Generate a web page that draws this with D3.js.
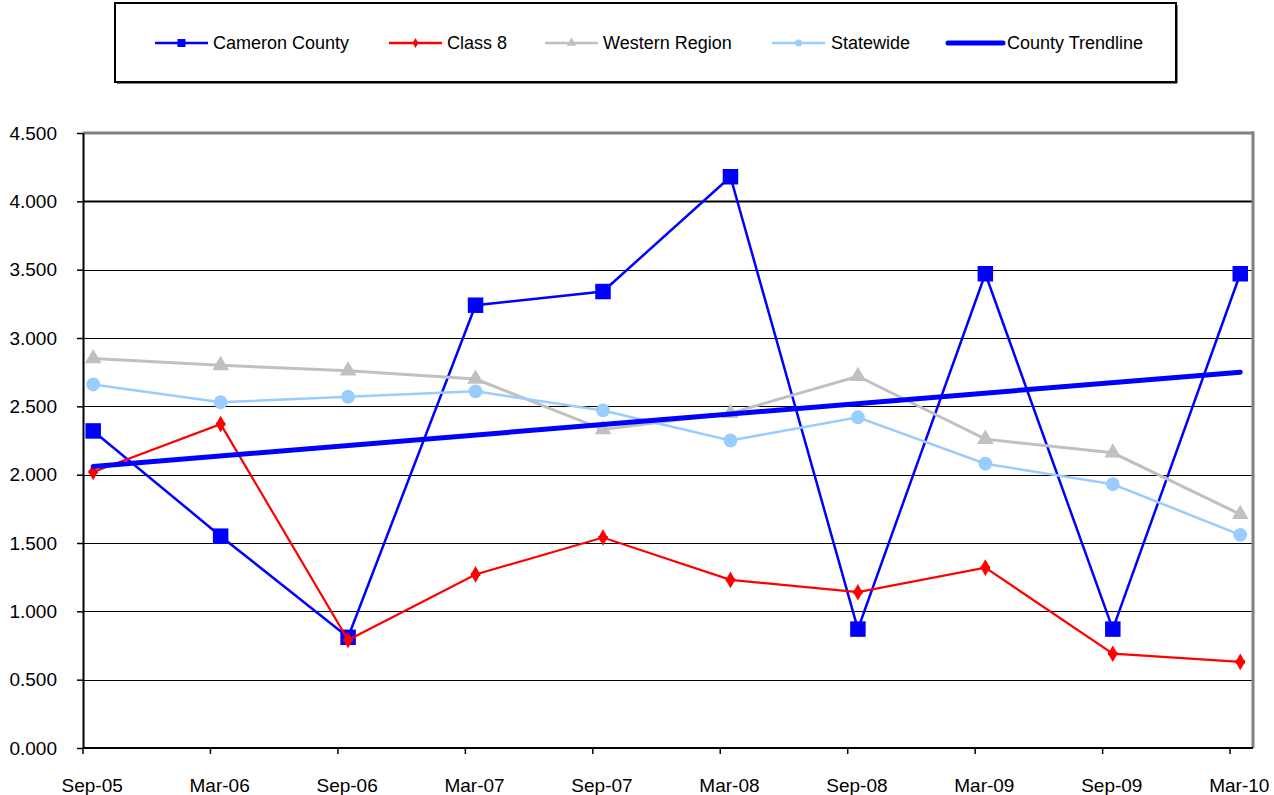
<!DOCTYPE html>
<html>
<head>
<meta charset="utf-8">
<script src="https://cdn.jsdelivr.net/npm/d3@7"></script>
<style>
  html, body { margin: 0; padding: 0; background: #fff; }
  svg { display: block; font-family: Arial, "Liberation Sans", sans-serif; }
</style>
</head>
<body>
<svg id="chart" width="1274" height="795"></svg>
<script>
const categories = ["Sep-05","Mar-06","Sep-06","Mar-07","Sep-07","Mar-08","Sep-08","Mar-09","Sep-09","Mar-10"];
const cameronCounty = [2.32, 1.55, 0.81, 3.24, 3.34, 4.18, 0.87, 3.47, 0.87, 3.47];
const class8        = [2.02, 2.37, 0.79, 1.27, 1.54, 1.23, 1.14, 1.32, 0.69, 0.63];
const westernRegion = [2.85, 2.80, 2.76, 2.70, 2.33, 2.45, 2.72, 2.26, 2.16, 1.71];
const statewide     = [2.66, 2.53, 2.57, 2.61, 2.47, 2.25, 2.42, 2.08, 1.93, 1.56];
const countyTrendline = [2.06, 2.75]; // at first and last category
const yTicks = [0, 0.5, 1, 1.5, 2, 2.5, 3, 3.5, 4, 4.5];

const svg = d3.select("#chart");
const pLeft = 83, pRight = 1253, pTop = 133, pBottom = 748;

const x = d3.scaleLinear().domain([-0.08, 9.1]).range([pLeft, pRight]);
const y = d3.scaleLinear().domain([0, 4.5]).range([pBottom, pTop]);

// gridlines
svg.append("g").selectAll("line").data(yTicks.filter(v => v > 0 && v < 4.5)).join("line")
  .attr("x1", pLeft).attr("x2", pRight)
  .attr("y1", d => Math.round(y(d)) + 0.5).attr("y2", d => Math.round(y(d)) + 0.5)
  .attr("stroke", "#000").attr("stroke-width", d => d === 4 ? 2 : 1.2);

// plot border (top/right gray)
svg.append("line").attr("x1", pLeft).attr("x2", pRight + 1).attr("y1", y(4.5)).attr("y2", y(4.5))
  .attr("stroke", "#808080").attr("stroke-width", 3);
svg.append("line").attr("x1", pRight).attr("x2", pRight).attr("y1", y(4.5) - 1.5).attr("y2", pBottom)
  .attr("stroke", "#808080").attr("stroke-width", 3);

// y axis
const yAxis = d3.axisLeft(y).tickValues(yTicks).tickFormat(d3.format(".3f")).tickSize(6).tickSizeOuter(0);
const gy = svg.append("g").attr("transform", `translate(${pLeft},0)`).call(yAxis);
gy.select(".domain").attr("stroke", "#000").attr("stroke-width", 2);
gy.selectAll(".tick line").attr("stroke", "#000").attr("stroke-width", 1.5);
gy.selectAll(".tick text").attr("font-size", 19).attr("fill", "#000").attr("x", -26)
  .attr("font-family", "Arial, 'Liberation Sans', sans-serif");

// x axis
const idx = d3.range(categories.length);
const gx = svg.append("g").attr("transform", `translate(0,${pBottom})`);
gx.append("line").attr("x1", pLeft).attr("x2", pRight).attr("y1", 0).attr("y2", 0)
  .attr("stroke", "#000").attr("stroke-width", 2);
gx.selectAll("line.tk").data(idx).join("line").attr("class", "tk")
  .attr("x1", d => x(d - 0.08)).attr("x2", d => x(d - 0.08)).attr("y1", 0).attr("y2", 6)
  .attr("stroke", "#000").attr("stroke-width", 1.5);
gx.selectAll("text").data(idx).join("text")
  .attr("x", d => x(d) - 1).attr("y", 44)
  .attr("text-anchor", "middle").attr("font-size", 19).attr("fill", "#000")
  .text(d => categories[d]);

// series
function drawLine(values, color, width) {
  const line = d3.line().x((d, i) => x(i)).y(d => y(d));
  svg.append("path").datum(values).attr("d", line)
    .attr("fill", "none").attr("stroke", color).attr("stroke-width", width).attr("stroke-linejoin", "miter");
}
function drawMarkers(values, type, size, color) {
  svg.append("g").selectAll("path").data(values).join("path")
    .attr("transform", (d, i) => `translate(${x(i)},${y(d)})`)
    .attr("d", d3.symbol().type(type).size(size))
    .attr("fill", color);
}

drawLine(cameronCounty, "#0000FF", 2.5);
drawMarkers(cameronCounty, d3.symbolSquare, 240, "#0000FF");

drawLine(class8, "#FF0000", 2.2);
drawMarkers(class8, d3.symbolDiamond, 80, "#FF0000");
drawMarkers(class8, d3.symbolCross, 50, "#FF0000");

drawLine(westernRegion, "#C0C0C0", 3);
drawMarkers(westernRegion, d3.symbolTriangle, 120, "#C0C0C0");

drawLine(statewide, "#99CCFF", 2.5);
drawMarkers(statewide, d3.symbolCircle, 150, "#99CCFF");

// trendline
svg.append("line")
  .attr("x1", x(0)).attr("y1", y(countyTrendline[0]))
  .attr("x2", x(categories.length - 1)).attr("y2", y(countyTrendline[1]))
  .attr("stroke", "#0000FF").attr("stroke-width", 5).attr("stroke-linecap", "round");

// legend
const lg = svg.append("g");
lg.append("rect").attr("x", 115).attr("y", 3).attr("width", 1061).attr("height", 79)
  .attr("fill", "#fff").attr("stroke", "#000").attr("stroke-width", 2);
lg.append("line").attr("x1", 117).attr("x2", 1177).attr("y1", 82.5).attr("y2", 82.5).attr("stroke", "#000").attr("stroke-width", 2);
lg.append("line").attr("x1", 1176.5).attr("x2", 1176.5).attr("y1", 5).attr("y2", 83).attr("stroke", "#000").attr("stroke-width", 2);

const legendItems = [
  { name: "Cameron County", color: "#0000FF", x0: 155, x1: 208, tx: 213, sym: d3.symbolSquare, size: 64, w: 2.5 },
  { name: "Class 8", color: "#FF0000", x0: 389, x1: 442, tx: 447, sym: d3.symbolDiamond, size: 30, w: 2.5 },
  { name: "Western Region", color: "#C0C0C0", x0: 545, x1: 598, tx: 603, sym: d3.symbolTriangle, size: 40, w: 2.5 },
  { name: "Statewide", color: "#99CCFF", x0: 772, x1: 825, tx: 831, sym: d3.symbolCircle, size: 40, w: 2.5 },
  { name: "County Trendline", color: "#0000FF", x0: 948, x1: 1003, tx: 1007, sym: null, size: 0, w: 5 }
];
const ly = 43;
legendItems.forEach(it => {
  lg.append("line").attr("x1", it.x0).attr("x2", it.x1).attr("y1", ly).attr("y2", ly)
    .attr("stroke", it.color).attr("stroke-width", it.w).attr("stroke-linecap", it.sym ? "butt" : "round");
  if (it.sym) {
    lg.append("path").attr("transform", `translate(${(it.x0 + it.x1) / 2},${ly})`)
      .attr("d", d3.symbol().type(it.sym).size(it.size)).attr("fill", it.color);
  }
  lg.append("text").attr("x", it.tx).attr("y", ly + 6).attr("font-size", 18).attr("fill", "#000")
    .text(it.name);
});
</script>
</body>
</html>
